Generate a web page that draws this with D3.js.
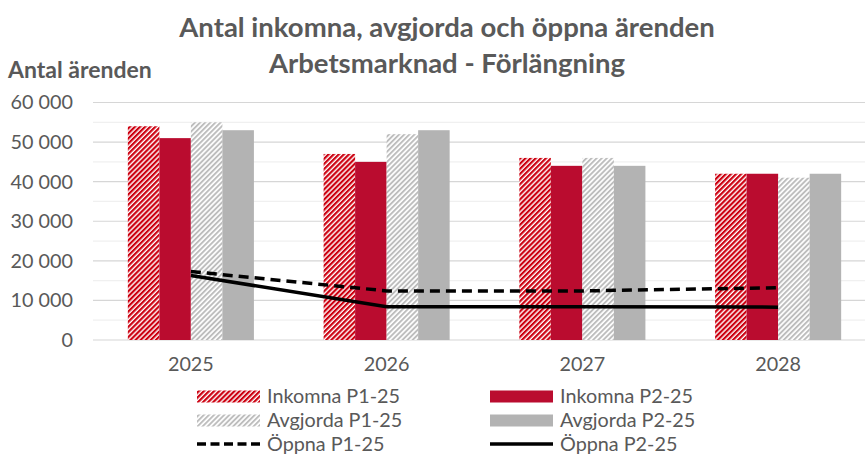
<!DOCTYPE html>
<html>
<head>
<meta charset="utf-8">
<script src="https://cdn.jsdelivr.net/npm/d3@7"></script>
<style>
  html, body { margin: 0; padding: 0; background: #fff; }
  svg { display: block; font-family: Lato, "Open Sans", sans-serif; }
</style>
</head>
<body>
<svg id="chart" width="865" height="455"></svg>
<script>
// data
const years = ["2025", "2026", "2027", "2028"];
const barSeries = ["Inkomna P1-25", "Inkomna P2-25", "Avgjorda P1-25", "Avgjorda P2-25"];
const inkomnaP1 = [54000, 47000, 46000, 42000];
const inkomnaP2 = [51000, 45000, 44000, 42000];
const avgjordaP1 = [55000, 52000, 46000, 41000];
const avgjordaP2 = [53000, 53000, 44000, 42000];
const oppnaP1 = [17300, 12400, 12400, 13200];
const oppnaP2 = [16300, 8400, 8400, 8300];
const yTicks = [0, 10000, 20000, 30000, 40000, 50000, 60000];

const W = 865, H = 455;
const plot = { left: 93, right: 876, top: 102.5, bottom: 340 };
const textColor = "#595959";

const svg = d3.select("#chart");

// hatch patterns (wide upward diagonal)
const defs = svg.append("defs");
function hatch(id, color, period, stripe) {
  const p = defs.append("pattern")
    .attr("id", id)
    .attr("patternUnits", "userSpaceOnUse")
    .attr("width", period)
    .attr("height", 8)
    .attr("patternTransform", "rotate(45)");
  p.append("rect").attr("width", period).attr("height", 8).attr("fill", "#fff");
  p.append("rect").attr("width", stripe).attr("height", 8).attr("fill", color);
}
hatch("hatchRed", "#CC0010", 3.6, 2.2);
hatch("hatchGray", "#BDBDBD", 3.6, 1.9);

const fills = {
  "Inkomna P1-25": "url(#hatchRed)",
  "Inkomna P2-25": "#BA0C2F",
  "Avgjorda P1-25": "url(#hatchGray)",
  "Avgjorda P2-25": "#B3B3B3",
};
const barValues = [inkomnaP1, inkomnaP2, avgjordaP1, avgjordaP2];

// scales
const pad = 0.356;
const x = d3.scaleBand().domain(years).range([plot.left, plot.right])
  .paddingInner(pad).paddingOuter(pad / 2);
const x1 = d3.scaleBand().domain(barSeries).range([0, x.bandwidth()]);
const y = d3.scaleLinear().domain([0, 60000]).range([plot.bottom, plot.top]);

// grid (minor + major)
const gridG = svg.append("g");
const minor = d3.range(5000, 60000, 10000);
gridG.selectAll("line.minor").data(minor).join("line")
  .attr("x1", plot.left).attr("x2", W)
  .attr("y1", d => y(d)).attr("y2", d => y(d))
  .attr("stroke", "#F0F0F0").attr("stroke-width", 1.2);
gridG.selectAll("line.major").data(yTicks).join("line")
  .attr("x1", plot.left).attr("x2", W)
  .attr("y1", d => y(d)).attr("y2", d => y(d))
  .attr("stroke", "#D6D6D6").attr("stroke-width", 1.2);

// y axis labels
const fmt = d => d3.format(",")(d).replace(/,/g, " ");
const yAxisG = svg.append("g")
  .attr("transform", `translate(${plot.left},0)`)
  .call(d3.axisLeft(y).tickValues(yTicks).tickSize(0).tickPadding(20).tickFormat(fmt));
yAxisG.select(".domain").remove();
yAxisG.selectAll("text")
  .attr("fill", textColor)
  .style("font-size", "19.8px")
  .style("font-family", "Lato, sans-serif");

// x axis labels
const xAxisG = svg.append("g")
  .attr("transform", `translate(0,${plot.bottom})`)
  .call(d3.axisBottom(x).tickSize(0).tickPadding(17));
xAxisG.select(".domain").remove();
xAxisG.selectAll("text")
  .attr("fill", textColor)
  .style("font-size", "19.8px")
  .style("font-family", "Lato, sans-serif");

// bars
const groups = svg.append("g").selectAll("g").data(years).join("g")
  .attr("transform", d => `translate(${x(d)},0)`);
groups.selectAll("rect")
  .data((d, i) => barSeries.map((s, j) => ({ s, v: barValues[j][i] })))
  .join("rect")
  .attr("x", d => x1(d.s))
  .attr("width", x1.bandwidth())
  .attr("y", d => y(d.v))
  .attr("height", d => y(0) - y(d.v))
  .attr("fill", d => fills[d.s]);

// lines
const cx = d => x(d) + x.bandwidth() / 2;
const line = d3.line().x((d, i) => cx(years[i])).y(d => y(d));
svg.append("path").datum(oppnaP1)
  .attr("d", line).attr("fill", "none")
  .attr("stroke", "#000").attr("stroke-width", 3.5)
  .attr("stroke-dasharray", "10,6");
svg.append("path").datum(oppnaP2)
  .attr("d", line).attr("fill", "none")
  .attr("stroke", "#000").attr("stroke-width", 3.5);

// titles
const title = svg.append("text")
  .attr("text-anchor", "middle")
  .attr("fill", textColor).attr("font-weight", 700)
  .style("font-size", "27.5px");
title.append("tspan").attr("x", 447).attr("y", 37)
  .text("Antal inkomna, avgjorda och öppna ärenden");
title.append("tspan").attr("x", 447).attr("y", 73)
  .text("Arbetsmarknad - Förlängning");

svg.append("text")
  .attr("x", 8).attr("y", 78)
  .attr("fill", textColor).attr("font-weight", 700)
  .style("font-size", "23px")
  .text("Antal ärenden");

// legend
const legendItems = [
  { name: "Inkomna P1-25", type: "rect", col: 0, row: 0 },
  { name: "Inkomna P2-25", type: "rect", col: 1, row: 0 },
  { name: "Avgjorda P1-25", type: "rect", col: 0, row: 1 },
  { name: "Avgjorda P2-25", type: "rect", col: 1, row: 1 },
  { name: "Öppna P1-25", type: "dash", col: 0, row: 2 },
  { name: "Öppna P2-25", type: "line", col: 1, row: 2 },
];
const colX = [197, 490];
const rowY = [396.5, 420.5, 444];
const leg = svg.append("g").selectAll("g").data(legendItems).join("g")
  .attr("transform", d => `translate(${colX[d.col]},${rowY[d.row]})`);
leg.filter(d => d.type === "rect").append("rect")
  .attr("x", 0).attr("y", -6).attr("width", 63).attr("height", 12)
  .attr("fill", d => fills[d.name]);
leg.filter(d => d.type !== "rect").append("line")
  .attr("x1", 0).attr("x2", 63).attr("y1", 0).attr("y2", 0)
  .attr("stroke", "#000").attr("stroke-width", 3.5)
  .attr("stroke-dasharray", d => d.type === "dash" ? "9,4.5" : null);
leg.append("text")
  .attr("x", 70).attr("y", 0).attr("dy", "0.35em")
  .attr("fill", textColor)
  .style("font-size", "19.8px")
  .text(d => d.name);
</script>
</body>
</html>
